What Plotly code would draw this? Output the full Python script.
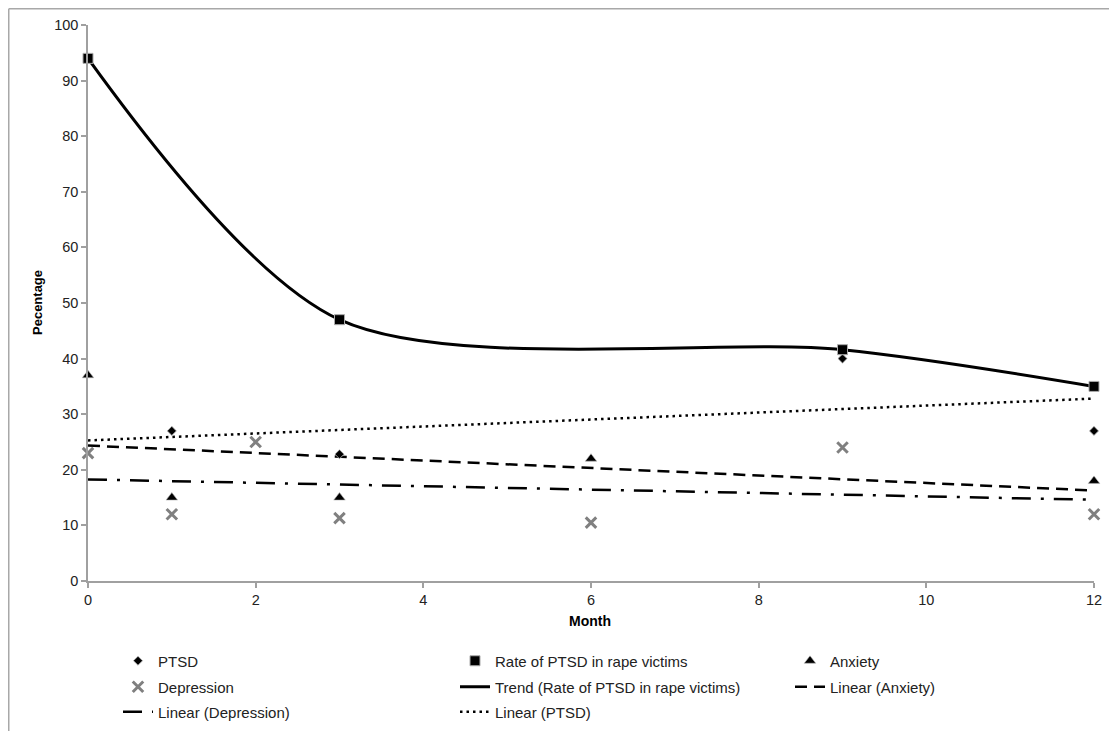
import numpy as np
import plotly.graph_objects as go

# ---- data ----
ptsd_x = [1, 3, 9, 12]
ptsd_y = [27, 22.8, 40, 27]

rape_x = [0, 3, 9, 12]
rape_y = [94, 47, 41.6, 35]

anx_x = [0, 1, 3, 6, 12]
anx_y = [37, 15, 15, 22, 18]

dep_x = [0, 1, 2, 3, 6, 9, 12]
dep_y = [23, 12, 25, 11.3, 10.5, 24, 12]

x_ticks = [0, 2, 4, 6, 8, 10, 12]
y_ticks = [0, 10, 20, 30, 40, 50, 60, 70, 80, 90, 100]

FONT = "Liberation Sans, Arial, sans-serif"
OFF = 8  # page body margin offset
W, H = 1117 - OFF, 731 - OFF
L, R, T, B = 88 - OFF, 1117 - 1094, 25 - OFF, 731 - 581
PW, PH = W - L - R, H - T - B


def px2fx(px):  # reference pixel x -> paper fraction
    return (px - OFF - L) / PW


def py2fy(py):  # reference pixel y -> paper fraction
    return 1 - (py - OFF - T) / PH


def linfit(xs, ys):
    m, c = np.polyfit(xs, ys, 1)
    xx = np.array([0, 12])
    return xx, m * xx + c


ax, ay = linfit(anx_x, anx_y)
dx, dy = linfit(dep_x, dep_y)
px_, py_ = linfit(ptsd_x, ptsd_y)

fig = go.Figure()

# trend lines
fig.add_trace(go.Scatter(x=rape_x, y=rape_y, mode="lines", name="Trend (Rate of PTSD in rape victims)",
                         line=dict(color="black", width=3, shape="spline", smoothing=0.85),
                         legend="legend5"))
fig.add_trace(go.Scatter(x=ax, y=ay, mode="lines", name="Linear (Anxiety)",
                         line=dict(color="black", width=2.5, dash="12px,7px"), legend="legend6"))
fig.add_trace(go.Scatter(x=dx, y=dy, mode="lines", name="Linear (Depression)",
                         line=dict(color="black", width=2.5, dash="19px,10px,3px,10px"), legend="legend7"))
fig.add_trace(go.Scatter(x=px_, y=py_, mode="lines", name="Linear (PTSD)",
                         line=dict(color="black", width=2.5, dash="2.5px,4px"), legend="legend8"))

# markers
fig.add_trace(go.Scatter(x=ptsd_x, y=ptsd_y, mode="markers", name="PTSD", cliponaxis=False,
                         marker=dict(symbol="diamond", size=7, color="black",
                                     line=dict(color="#bbbbbb", width=0.8)), legend="legend"))
fig.add_trace(go.Scatter(x=rape_x, y=rape_y, mode="markers", name="Rate of PTSD in rape victims",
                         cliponaxis=False,
                         marker=dict(symbol="square", size=10, color="black",
                                     line=dict(color="#aaaaaa", width=1)), legend="legend2"))
fig.add_trace(go.Scatter(x=anx_x, y=anx_y, mode="markers", name="Anxiety", cliponaxis=False,
                         marker=dict(symbol="triangle-up", size=10, color="black",
                                     line=dict(color="#bbbbbb", width=0.6)), legend="legend3"))
fig.add_trace(go.Scatter(x=dep_x, y=dep_y, mode="markers", name="Depression", cliponaxis=False,
                         marker=dict(symbol="x-thin-open", size=10.5, color="#808080",
                                     line=dict(color="#808080", width=3)), legend="legend4"))


def leg(text_x, row_y):
    return dict(orientation="h", x=px2fx(text_x - 40), xanchor="left",
                y=py2fy(row_y), yanchor="middle",
                font=dict(family=FONT, size=15, color="#222222"),
                bgcolor="rgba(0,0,0,0)")


cols = [158, 495, 830]
rows = [661, 687, 712]

fig.update_layout(
    width=W, height=H,
    margin=dict(l=L, r=R, t=T, b=B, autoexpand=False),
    paper_bgcolor="white", plot_bgcolor="white",
    font=dict(family=FONT, size=15, color="#222222"),
    showlegend=True,
    legend=leg(cols[0], rows[0]),
    legend2=leg(cols[1], rows[0]),
    legend3=leg(cols[2], rows[0]),
    legend4=leg(cols[0], rows[1]),
    legend5=leg(cols[1], rows[1]),
    legend6=leg(cols[2], rows[1]),
    legend7=leg(cols[0], rows[2]),
    legend8=leg(cols[1], rows[2]),
    xaxis=dict(range=[0, 12], tickvals=x_ticks, showgrid=False, zeroline=False,
               showline=True, linecolor="#a0a0a0", linewidth=1.5,
               ticks="outside", ticklen=5, tickcolor="#a0a0a0", tickwidth=1.5,
               tickfont=dict(family=FONT, size=14.5, color="#222222")),
    yaxis=dict(range=[0, 100], tickvals=y_ticks, showgrid=False, zeroline=False,
               showline=True, linecolor="#a0a0a0", linewidth=1.5,
               ticks="outside", ticklen=5, tickcolor="#a0a0a0", tickwidth=1.5,
               tickfont=dict(family=FONT, size=14.5, color="#222222")),
    annotations=[
        dict(text="<b>Pecentage</b>", xref="paper", yref="paper", x=px2fx(37), y=py2fy(303),
             showarrow=False, textangle=-90, font=dict(family=FONT, size=13, color="black"),
             xanchor="center", yanchor="middle"),
        dict(text="<b>Month</b>", xref="paper", yref="paper", x=px2fx(590), y=py2fy(621),
             showarrow=False, font=dict(family=FONT, size=14, color="black"),
             xanchor="center", yanchor="middle"),
    ],
    shapes=[
        dict(type="line", xref="paper", yref="paper", x0=px2fx(8.75), x1=px2fx(1117),
             y0=py2fy(8.75), y1=py2fy(8.75), line=dict(color="#a8a8a8", width=1.5)),
        dict(type="line", xref="paper", yref="paper", x0=px2fx(8.75), x1=px2fx(8.75),
             y0=py2fy(8.75), y1=py2fy(731), line=dict(color="#a8a8a8", width=1.5)),
    ],
)

fig.write_html("out.html")
